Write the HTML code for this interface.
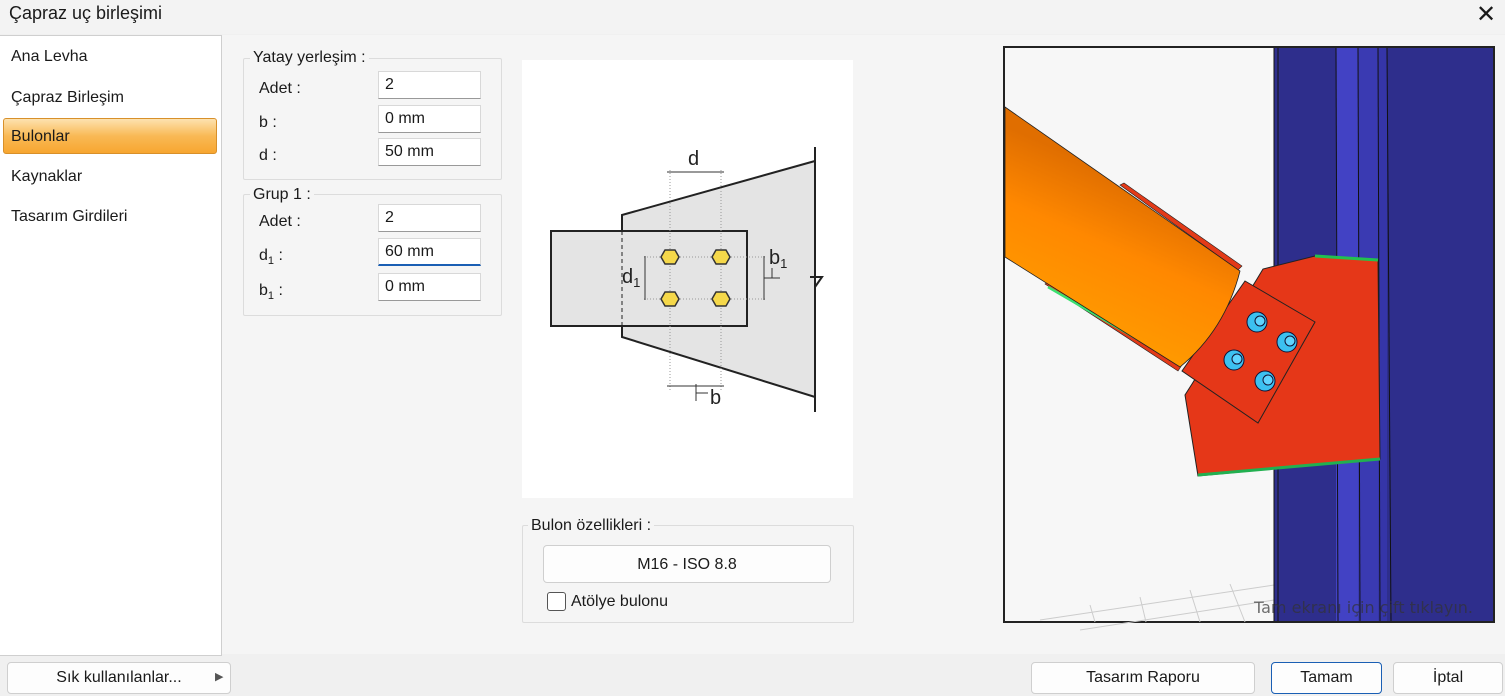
<!DOCTYPE html>
<html><head><meta charset="utf-8"><style>
body{margin:0;width:1505px;height:696px;background:#f0f0f0;font-family:"Liberation Sans",sans-serif;position:relative;overflow:hidden;font-size:16px;color:#1a1a1a}
.a{position:absolute}
.inp{position:absolute;background:#fff;border:1px solid #d8d8d8;border-bottom:1px solid #999;height:28px;box-sizing:border-box;padding:4px 6px;font-size:16px}
.grp{position:absolute;border:1px solid #dcdcdc;border-radius:2px}
.btn{position:absolute;background:#fdfdfd;border:1px solid #cfcfcf;border-radius:4px;text-align:center;box-sizing:border-box;line-height:30px;font-size:16px}
</style></head><body>
<div class="a" style="left:0;top:0;width:1505px;height:34px;background:#f3f3f3"></div>
<div class="a" style="left:9px;top:3px;font-size:18px">Çapraz uç birleşimi</div>
<div class="a" style="left:1476px;top:0px;font-size:24px;font-weight:300">✕</div>
<div class="a" style="left:0;top:35px;width:221px;height:619px;background:#fff;border:1px solid #cfcfcf;border-left:none"></div>
<div class="a" style="left:11px;top:48px">Ana Levha</div>
<div class="a" style="left:11px;top:89px">Çapraz Birleşim</div>
<div class="a" style="left:3px;top:118px;width:214px;height:36px;background:linear-gradient(#fde2b0,#f9b955 50%,#f7a630);border:1px solid #d8902a;border-radius:3px;box-sizing:border-box"></div>
<div class="a" style="left:11px;top:128px">Bulonlar</div>
<div class="a" style="left:11px;top:168px">Kaynaklar</div>
<div class="a" style="left:11px;top:208px">Tasarım Girdileri</div>
<div class="a" style="left:222px;top:35px;width:1283px;height:619px;background:#f5f5f5"></div>

<div class="grp" style="left:243px;top:58px;width:257px;height:120px"></div>
<div class="a" style="left:250px;top:49px;background:#f5f5f5;padding:0 3px">Yatay yerleşim :</div>
<div class="a" style="left:259px;top:80px">Adet :</div><div class="inp" style="left:378px;top:71px;width:103px">2</div>
<div class="a" style="left:259px;top:114px">b :</div><div class="inp" style="left:378px;top:105px;width:103px">0 mm</div>
<div class="a" style="left:259px;top:147px">d :</div><div class="inp" style="left:378px;top:138px;width:103px">50 mm</div>
<div class="grp" style="left:243px;top:194px;width:257px;height:120px"></div>
<div class="a" style="left:250px;top:186px;background:#f5f5f5;padding:0 3px">Grup 1 :</div>
<div class="a" style="left:259px;top:213px">Adet :</div><div class="inp" style="left:378px;top:204px;width:103px">2</div>
<div class="a" style="left:259px;top:247px">d<sub style="font-size:11px">1</sub> :</div><div class="inp" style="left:378px;top:238px;width:103px;border-bottom:2px solid #1a5fb4">60 mm</div>
<div class="a" style="left:259px;top:282px">b<sub style="font-size:11px">1</sub> :</div><div class="inp" style="left:378px;top:273px;width:103px">0 mm</div>

<div class="a" style="left:522px;top:60px;width:331px;height:438px;background:#fff"></div>
<svg class="a" style="left:0;top:0" width="1505" height="696">
<polygon points="622,215 815,161 815,397 622,337" fill="#e4e4e4" stroke="#222" stroke-width="2"/>
<line x1="815" y1="147" x2="815" y2="412" stroke="#222" stroke-width="2"/>
<path d="M810,277 L822,277 L815,287" fill="none" stroke="#222" stroke-width="2"/>
<rect x="551" y="231" width="196" height="95" fill="#e4e4e4" stroke="#222" stroke-width="2"/>
<line x1="622" y1="231" x2="622" y2="326" stroke="#222" stroke-dasharray="4,3"/>
<g stroke="#999" stroke-dasharray="1,2"><line x1="670" y1="170" x2="670" y2="390"/><line x1="721" y1="170" x2="721" y2="390"/><line x1="644" y1="257" x2="765" y2="257"/><line x1="644" y1="299" x2="765" y2="299"/></g>
<g stroke="#333"><line x1="667" y1="172" x2="724" y2="172"/><line x1="667" y1="386" x2="724" y2="386"/><line x1="645" y1="256" x2="645" y2="300"/><line x1="764" y1="256" x2="764" y2="300"/><line x1="696" y1="384" x2="696" y2="401"/><line x1="696" y1="393" x2="708" y2="393"/><line x1="764" y1="278" x2="780" y2="278"/><line x1="772" y1="278" x2="772" y2="268"/></g>
<g fill="#f5d84a" stroke="#333" stroke-width="1.5">
<polygon points="661,257 665,250 675,250 679,257 675,264 665,264"/><polygon points="712,257 716,250 726,250 730,257 726,264 716,264"/>
<polygon points="661,299 665,292 675,292 679,299 675,306 665,306"/><polygon points="712,299 716,292 726,292 730,299 726,306 716,306"/></g>
<g font-family="Liberation Sans" font-size="20" fill="#222"><text x="688" y="165">d</text><text x="622" y="283">d<tspan font-size="13" dy="4">1</tspan></text><text x="769" y="264">b<tspan font-size="13" dy="4">1</tspan></text><text x="710" y="404">b</text></g>

<rect x="1004" y="47" width="490" height="575" fill="#f7f7f7" stroke="#222" stroke-width="2"/>
<g stroke="#ccc" fill="none"><path d="M1040,620 L1274,585 M1080,630 L1274,600 M1090,605 L1095,622 M1140,597 L1146,622 M1190,590 L1200,622 M1230,584 L1245,622"/></g>
<rect x="1274" y="48" width="219" height="573" fill="#2e2e8c"/>
<rect x="1336" y="48" width="22" height="573" fill="#4242c4"/>
<rect x="1358" y="48" width="20" height="573" fill="#3a3ab2"/>
<rect x="1378" y="48" width="9" height="573" fill="#3535a8"/>
<g stroke="#111" stroke-width="1"><line x1="1274" y1="48" x2="1274" y2="621"/><line x1="1278" y1="48" x2="1278" y2="621"/><line x1="1336" y1="48" x2="1338" y2="621"/><line x1="1358" y1="48" x2="1360" y2="621"/><line x1="1378" y1="48" x2="1380" y2="621"/><line x1="1387" y1="48" x2="1391" y2="621"/></g>
<polygon points="1120,185 1124,183 1242,266 1238,270" fill="#e33a18" stroke="#222" stroke-width="0.6"/>
<polygon points="1045,284 1048,282 1182,365 1178,371" fill="#e33a18" stroke="#222" stroke-width="0.6"/>
<line x1="1048" y1="287" x2="1180" y2="364" stroke="#3be070" stroke-width="2.5"/>
<polygon points="1315,256 1378,260 1380,459 1198,476 1185,395 1192,384 1257,279 1263,269" fill="#e53718" stroke="#222" stroke-width="1"/>
<line x1="1315" y1="256" x2="1378" y2="260" stroke="#22c050" stroke-width="3"/>
<line x1="1198" y1="475" x2="1380" y2="459" stroke="#22b050" stroke-width="3"/>
<polygon points="1245,281 1315,322 1258,423 1182,371" fill="#e53718" stroke="#222" stroke-width="1"/>
<defs><linearGradient id="o" x1="0" y1="1" x2="0.4" y2="0"><stop offset="0" stop-color="#ffa800"/><stop offset="0.55" stop-color="#ff8800"/><stop offset="0.8" stop-color="#e06e00"/></linearGradient></defs>
<path d="M1005,107 L1240,271 Q1225,330 1180,367 L1005,257 Z" fill="url(#o)" stroke="#222" stroke-width="0.8"/>
<g fill="#3cc0f0" stroke="#113" stroke-width="1"><circle cx="1257" cy="322" r="10"/><circle cx="1287" cy="342" r="10"/><circle cx="1234" cy="360" r="10"/><circle cx="1265" cy="381" r="10"/></g>
<g fill="#5fd4ff" stroke="#113" stroke-width="1"><circle cx="1260" cy="321" r="5"/><circle cx="1290" cy="341" r="5"/><circle cx="1237" cy="359" r="5"/><circle cx="1268" cy="380" r="5"/></g>
<text x="1254" y="613" font-family="DejaVu Sans" font-size="16" fill="#333" opacity="0.7">Tam ekranı için çift tıklayın.</text>
</svg>

<div class="grp" style="left:522px;top:525px;width:330px;height:96px"></div>
<div class="a" style="left:528px;top:517px;background:#f5f5f5;padding:0 3px">Bulon özellikleri :</div>
<div class="btn" style="left:543px;top:545px;width:288px;height:38px;line-height:38px">M16 - ISO 8.8</div>
<div class="a" style="left:547px;top:592px;width:17px;height:17px;border:1px solid #555;border-radius:3px;background:#fff"></div>
<div class="a" style="left:571px;top:593px">Atölye bulonu</div>

<div class="btn" style="left:7px;top:662px;width:224px;height:32px">Sık kullanılanlar...</div>
<div class="a" style="left:215px;top:670px;font-size:11px;color:#555">▶</div>
<div class="btn" style="left:1031px;top:662px;width:224px;height:32px">Tasarım Raporu</div>
<div class="btn" style="left:1271px;top:662px;width:111px;height:32px;border:1px solid #1a5fb4">Tamam</div>
<div class="btn" style="left:1393px;top:662px;width:110px;height:32px">İptal</div>
</body></html>
